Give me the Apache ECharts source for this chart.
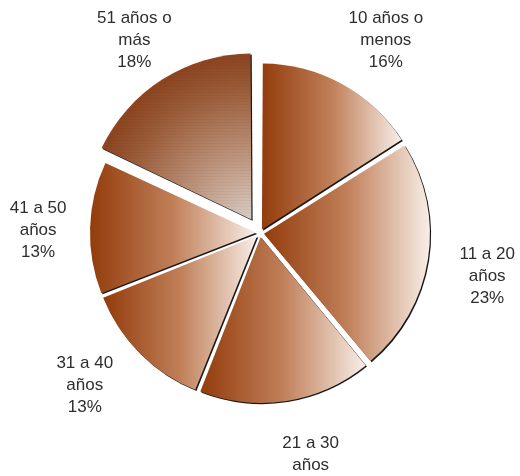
<!DOCTYPE html>
<html>
<head>
<meta charset="utf-8">
<script src="https://cdn.jsdelivr.net/npm/echarts@6/dist/echarts.min.js"></script>
<style>
  html, body { margin: 0; padding: 0; background: #ffffff; }
  #chart { width: 520px; height: 476px; }
</style>
</head>
<body>
<div id="chart"></div>
<script>
// Age groups (line breaks are part of the label text)
const categories = [
  '10 años o\nmenos',
  '11 a 20\naños',
  '21 a 30\naños',
  '31 a 40\naños',
  '41 a 50\naños',
  '51 años o\nmás'
];
// Share of each group, in percent
const shares = [16, 23, 17, 13, 13, 18];
// The slice pulled well out of the pie
const pulledOut = [false, false, false, false, false, true];

// Small per-label nudges [dx, dy] away from the default outside position
const labelNudge = [[16, 7], [2, 8], [15, 7], [-14, -9], [6, 4], [4, 12]];

const CENTER = [260, 233];
const RADIUS = 166;

const sliceGradient = {
  type: 'linear', x: 0, y: 0, x2: 1, y2: 0,
  colorStops: [
    { offset: 0, color: '#933c0c' },
    { offset: 0.5, color: '#c07f58' },
    { offset: 1, color: '#f8eee8' }
  ]
};

// darker along the rim, fading towards the tip of the slice
const hatchedGradient = {
  type: 'radial', x: 1, y: 1, r: 1.1,
  colorStops: [
    { offset: 0, color: '#e6d8d0' },
    { offset: 0.45, color: '#c29479' },
    { offset: 0.8, color: '#a2603b' },
    { offset: 1, color: '#934821' }
  ]
};

const hatch = {
  symbol: 'rect',
  symbolSize: 1,
  dashArrayX: [1, 1],
  dashArrayY: [1, 2],
  rotation: 0,
  color: 'rgba(40, 15, 0, 0.2)'
};

const baseStyle = {
  borderWidth: 0,
  shadowColor: 'rgba(0,0,0,0.9)',
  shadowOffsetX: 1.2,
  shadowOffsetY: 1.2,
  shadowBlur: 0
};

const labelStyle = {
  show: true,
  position: 'outside',
  formatter: p => p.name + '\n' + p.value + '%',
  color: '#2e2e2e',
  fontSize: 17,
  lineHeight: 22,
  fontFamily: 'Liberation Sans, Arial, sans-serif',
  distanceToLabelLine: 0
};

const placeLabel = params => ({
  align: 'center',
  dx: labelNudge[params.dataIndex][0],
  dy: labelNudge[params.dataIndex][1]
});

// Build one pie layer; `keep` decides which slices this layer shows
function pieLayer(keep, offset, lineLen, styleFor) {
  return {
    type: 'pie',
    left: 0, top: 0, width: 520, height: 800,
    center: CENTER,
    radius: RADIUS,
    startAngle: 90,
    clockwise: true,
    padAngle: 0.6,
    selectedMode: 'multiple',
    selectedOffset: offset,
    avoidLabelOverlap: false,
    silent: true,
    itemStyle: Object.assign({ color: sliceGradient }, baseStyle),
    label: labelStyle,
    labelLine: { show: false, length: lineLen, length2: 0 },
    labelLayout: placeLabel,
    emphasis: { disabled: true },
    data: categories.map((name, i) => {
      const shown = keep(i);
      return {
        name: name,
        value: shares[i],
        selected: shown,
        itemStyle: shown ? styleFor(i) : { opacity: 0 },
        label: shown ? {} : { show: false }
      };
    })
  };
}

const chart = echarts.init(document.getElementById('chart'), null, { renderer: 'canvas' });

chart.setOption({
  animation: false,
  backgroundColor: '#ffffff',
  series: [
    // slices that stay in the pie, set slightly apart
    pieLayer(i => !pulledOut[i], 4, 58, () => ({})),
    // the pulled-out, hatched slice
    pieLayer(i => pulledOut[i], 16, 60, () => ({ color: hatchedGradient, decal: hatch }))
  ]
});
</script>
</body>
</html>
